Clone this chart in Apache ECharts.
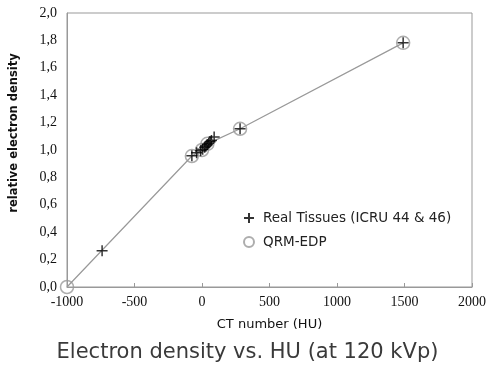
<!DOCTYPE html>
<html><head><meta charset="utf-8">
<script src="https://cdn.jsdelivr.net/npm/echarts@6/dist/echarts.min.js"></script>
<style>html,body{margin:0;padding:0;background:#fff}#c{width:495px;height:374px}</style>
</head><body><div id="c"></div>
<script>
// QRM-EDP phantom inserts (CT number HU, relative electron density)
const qrmHU = [-1000, -75, 0, 40, 282, 1490];
const qrmED = [0.0, 0.956, 1.0, 1.045, 1.155, 1.782];
// Real tissues (ICRU 44 & 46)
const tissueHU = [-740, -75, -40, -10, 5, 20, 30, 40, 50, 60, 70, 90, 282, 1490];
const tissueED = [0.265, 0.958, 0.98, 0.995, 1.005, 1.02, 1.03, 1.04, 1.05, 1.06, 1.07, 1.095, 1.155, 1.782];
const xTicks = [-1000, -500, 0, 500, 1000, 1500, 2000];
const yTicks = [0.0, 0.2, 0.4, 0.6, 0.8, 1.0, 1.2, 1.4, 1.6, 1.8, 2.0];

const zip = (a, b) => a.map((v, i) => [v, b[i]]);
const crossPath = 'path://M5,0L5,10M0,5L10,5';
const chart = echarts.init(document.getElementById('c'), null, {renderer: 'canvas'});
chart.setOption({
  animation: false,
  title: {
    text: 'Electron density vs. HU (at 120 kVp)',
    left: 'center', top: 337,
    textStyle: {fontFamily: 'DejaVu Sans', fontSize: 21, fontWeight: 'normal', color: '#3a3a3a'}
  },
  grid: {left: 61, right: 23, top: 13, bottom: 87, show: true, borderColor: '#999', borderWidth: 1},
  xAxis: {
    type: 'value', min: xTicks[0], max: xTicks[xTicks.length - 1], interval: 500,
    name: 'CT number (HU)', nameLocation: 'middle', nameGap: 31,
    nameTextStyle: {fontFamily: 'DejaVu Sans', fontSize: 13, fontWeight: 500, color: '#111'},
    axisLine: {onZero: false, lineStyle: {color: '#999'}},
    axisTick: {inside: true, length: 4, lineStyle: {color: '#999'}},
    splitLine: {show: false},
    axisLabel: {fontFamily: 'Liberation Serif', fontSize: 14, color: '#111', margin: 8,
      formatter: v => String(v)}
  },
  yAxis: {
    type: 'value', min: yTicks[0], max: yTicks[yTicks.length - 1], interval: 0.2,
    name: 'relative electron density', nameLocation: 'middle', nameGap: 47,
    nameTextStyle: {fontFamily: 'DejaVu Sans', fontSize: 11.5, fontWeight: 'bold', color: '#111',
      padding: [0, 0, 0, 34]},
    axisLine: {show: true, onZero: false, lineStyle: {color: '#999'}},
    axisTick: {show: false},
    splitLine: {show: false},
    axisLabel: {fontFamily: 'Liberation Serif', fontSize: 14, color: '#111', margin: 10,
      formatter: v => v.toFixed(1).replace('.', ',')}
  },
  legend: {
    orient: 'vertical', left: 238, top: 206, itemGap: 10,
    itemWidth: 10, itemHeight: 10,
    textStyle: {fontFamily: 'DejaVu Sans', fontSize: 13.5, lineHeight: 14, color: '#222',
      padding: [0, 0, 0, 4]},
    data: ['Real Tissues (ICRU 44 & 46)', 'QRM-EDP']
  },
  series: [
    {type: 'line', name: 'fit', data: zip(qrmHU, qrmED), showSymbol: false, symbol: 'none',
     lineStyle: {color: '#999', width: 1.2}, z: 1},
    {type: 'scatter', name: 'QRM-EDP', data: zip(qrmHU, qrmED), symbol: 'circle', symbolSize: 13,
     itemStyle: {color: 'rgba(255,255,255,0)', borderColor: '#999', borderWidth: 1.5}, z: 2},
    {type: 'scatter', name: 'Real Tissues (ICRU 44 & 46)', data: zip(tissueHU, tissueED),
     symbol: crossPath, symbolSize: 11,
     itemStyle: {color: 'rgba(0,0,0,0)', borderColor: '#000', borderWidth: 1.5}, z: 3}
  ]
});
</script></body></html>
